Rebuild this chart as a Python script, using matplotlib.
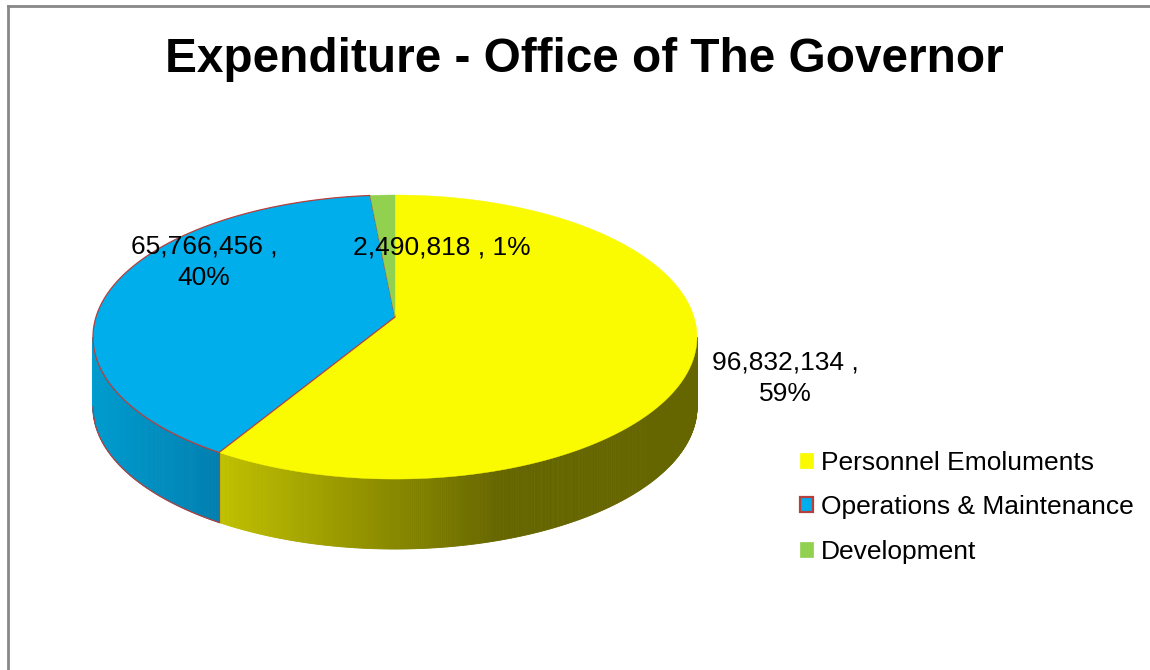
import numpy as np
import matplotlib
matplotlib.use("Agg")
import matplotlib.pyplot as plt
from matplotlib.patches import Polygon, Patch
from matplotlib.lines import Line2D

plt.rcParams["font.family"] = ["Liberation Sans", "DejaVu Sans"]

# ---- data -------------------------------------------------------------
categories = ["Personnel Emoluments", "Operations & Maintenance", "Development"]
values = [96832134, 65766456, 2490818]
pct_labels = ["59%", "40%", "1%"]
title = "Expenditure - Office of The Governor"

top_colors = ["#FAFA00", "#00AEEB", "#92D050"]
side_light = [(0.76, 0.76, 0.0), (0.0, 0.61, 0.81), (0.50, 0.70, 0.28)]
side_dark = [(0.40, 0.40, 0.0), (0.0, 0.50, 0.69), (0.40, 0.60, 0.22)]
edge_colors = [None, "#B5403D", None]

# ---- geometry of the tilted pie (pixel space) -------------------------
W, H = 1150, 670
apex_x, apex_y = 395.0, 317.0   # projected centre of the disc
A, B = 299.0, 139.2             # horizontal / vertical scale of the projection
k = 0.141                       # perspective strength (near side looks larger)
depth = 70.0                    # thickness of the disc

fig = plt.figure(figsize=(W / 100, H / 100), dpi=100)
ax = fig.add_axes([0, 0, 1, 1])
ax.set_xlim(0, W)
ax.set_ylim(H, 0)
ax.axis("off")


def rim(phi):
    """Screen position of the rim point at angle phi (deg, clockwise from 12 o'clock)."""
    p = np.radians(phi)
    u, v = np.sin(p), -np.cos(p)          # v > 0 points towards the viewer
    s = 1.0 - k * v
    return apex_x + A * u / s, apex_y + B * v / s


total = float(sum(values))
fracs = np.array(values) / total
bounds = 360.0 * np.concatenate([[0.0], np.cumsum(fracs)])

# visible part of the side wall lies between the two silhouette points
vis_lo = np.degrees(np.arccos(-k))
vis_hi = 360.0 - vis_lo

# side walls, shaded from light (left) to dark (right)
for i in range(len(values)):
    t0, t1 = bounds[i], bounds[i + 1]
    a, b = max(t0, vis_lo), min(t1, vis_hi)
    if b <= a:
        continue
    ts = np.linspace(a, b, int((b - a) * 3) + 2)
    pts = [rim(t) for t in ts]
    xs = np.array([p[0] for p in pts])
    ys = np.array([p[1] for p in pts])
    x_lo, x_hi = xs.min(), xs.max()
    for j in range(len(ts) - 1):
        xm = 0.5 * (xs[j] + xs[j + 1])
        if i == 0:
            s = np.clip((xm - 215.0) / (500.0 - 215.0), 0, 1)
        else:
            s = np.clip((xm - x_lo) / max(x_hi - x_lo, 1), 0, 1)
        c = tuple((1 - s) * np.array(side_light[i]) + s * np.array(side_dark[i]))
        ax.add_patch(Polygon([(xs[j], ys[j]), (xs[j + 1], ys[j + 1]),
                              (xs[j + 1], ys[j + 1] + depth), (xs[j], ys[j] + depth)],
                             closed=True, facecolor=c, edgecolor=c, lw=0.6))
    if edge_colors[i]:
        ax.plot(xs, ys + depth, color=edge_colors[i], lw=0.9)
        ax.plot([xs[0], xs[0]], [ys[0], ys[0] + depth], color=edge_colors[i], lw=0.9)

# top faces
for i in range(len(values)):
    t0, t1 = bounds[i], bounds[i + 1]
    ts = np.linspace(t0, t1, max(int((t1 - t0) * 2), 2) + 1)
    pts = [(apex_x, apex_y)] + [rim(t) for t in ts]
    ax.add_patch(Polygon(pts, closed=True, facecolor=top_colors[i],
                         edgecolor=edge_colors[i] or top_colors[i],
                         lw=0.9 if edge_colors[i] else 0.3, zorder=3))

# data labels
lab_fs = 19
ax.text(785, 378, f"{values[0]:,} ,\n{pct_labels[0]}", ha="center", va="center",
        fontsize=lab_fs, linespacing=1.42, zorder=5)
ax.text(204, 262, f"{values[1]:,} ,\n{pct_labels[1]}", ha="center", va="center",
        fontsize=lab_fs, linespacing=1.42, zorder=5)
ax.text(442, 247, f"{values[2]:,} , {pct_labels[2]}", ha="center", va="center",
        fontsize=lab_fs, zorder=5)

# title
ax.text(584, 72, title, ha="center", va="baseline", fontsize=34.4, fontweight="bold")

# legend
handles = [Patch(facecolor=top_colors[i], edgecolor=edge_colors[i] or top_colors[i],
                 lw=1.6 if edge_colors[i] else 0.5) for i in range(len(values))]
fig.legend(handles, categories, loc="upper left",
           bbox_to_anchor=(800 / W, 1 - 451 / H), frameon=False,
           fontsize=19, handlelength=0.5, handleheight=0.5,
           handletextpad=0.28, labelspacing=0.77, borderpad=0, borderaxespad=0)

# chart border (top and left edges)
ax.add_line(Line2D([8, 8], [6, H], color="#888888", lw=2))
ax.add_line(Line2D([8, W], [6, 6], color="#888888", lw=2))

fig.savefig("out.png", dpi=100)
